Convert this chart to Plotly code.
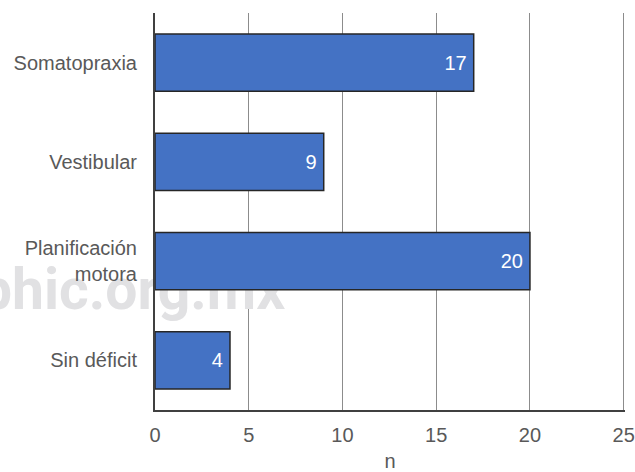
import plotly.graph_objects as go

# Déficits de integración sensorial (n por categoría)
categorias = ["Somatopraxia", "Vestibular", "Planificación<br>motora", "Sin déficit"]
valores = [17, 9, 20, 4]
x_ticks = [0, 5, 10, 15, 20, 25]

marca_agua = "phic.org.mx"

FONT = "Liberation Sans, Arial, sans-serif"
GRIS_TEXTO = "#595959"
TAM = 20

fig = go.Figure()

# Marca de agua: va en el subplot base para quedar debajo de las barras
fig.add_trace(go.Scatter(
    x=[0.277], y=[0.29],
    mode="text",
    text=[marca_agua],
    textposition="middle left",
    textfont=dict(family="Roboto, Liberation Sans, sans-serif", size=57,
                  color="#e1e1e3", weight="bold"),
    cliponaxis=False,
    hoverinfo="skip",
    showlegend=False,
    xaxis="x", yaxis="y",
))

# Barras horizontales en el subplot superpuesto
fig.add_trace(go.Bar(
    x=valores,
    y=categorias,
    orientation="h",
    marker=dict(color="#4472C4", line=dict(color="#262626", width=1.5)),
    text=[f"{v}\u2009" for v in valores],
    textposition="inside",
    insidetextanchor="end",
    textfont=dict(family=FONT, size=TAM, color="#ffffff"),
    showlegend=False,
    xaxis="x2", yaxis="y2",
))

fig.update_layout(
    width=635,
    height=472,
    margin=dict(l=155, r=10, t=13, b=62),
    paper_bgcolor="#ffffff",
    plot_bgcolor="#ffffff",
    font=dict(family=FONT, size=TAM, color=GRIS_TEXTO),
    bargap=0.425,
    showlegend=False,
    xaxis=dict(range=[0, 1], visible=False, fixedrange=True),
    yaxis=dict(range=[0, 1], visible=False, fixedrange=True),
    xaxis2=dict(
        overlaying="x",
        side="bottom",
        range=[0, 25.07],
        tickvals=x_ticks,
        ticktext=[str(t) for t in x_ticks],
        showgrid=True,
        gridcolor="#8c8c8c",
        gridwidth=1,
        zeroline=False,
        showline=True,
        linecolor="#404040",
        linewidth=2,
        ticks="outside",
        ticklen=6,
        tickcolor="rgba(0,0,0,0)",
        tickfont=dict(family=FONT, size=TAM, color=GRIS_TEXTO),
        ticklabeloverflow="allow",
        title=dict(text="n", font=dict(family=FONT, size=TAM, color=GRIS_TEXTO), standoff=21),
        automargin=False,
    ),
    yaxis2=dict(
        overlaying="y",
        side="left",
        categoryorder="array",
        categoryarray=categorias[::-1],
        showgrid=False,
        zeroline=False,
        showline=True,
        linecolor="#404040",
        linewidth=2,
        ticks="outside",
        ticklen=12,
        tickcolor="rgba(0,0,0,0)",
        tickfont=dict(family=FONT, size=TAM, color=GRIS_TEXTO),
        automargin=False,
    ),
)

fig.write_html("out.html")
